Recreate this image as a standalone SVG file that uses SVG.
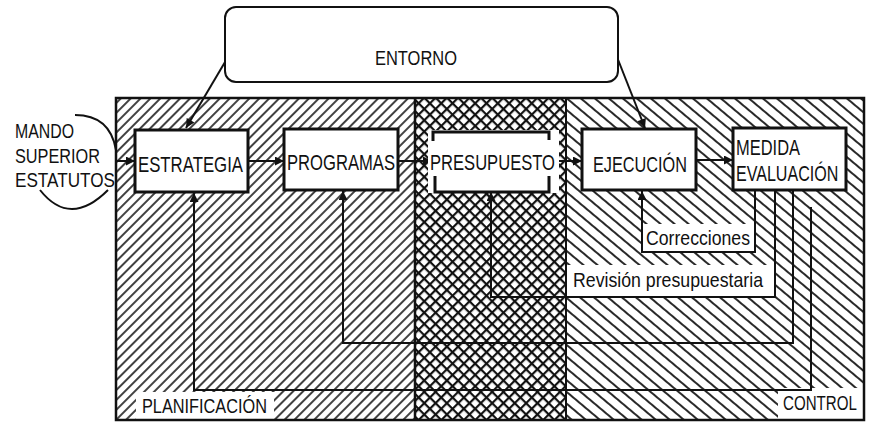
<svg xmlns="http://www.w3.org/2000/svg" width="871" height="423" viewBox="0 0 871 423">
<style>
text{font-family:"Liberation Sans",Arial,sans-serif;font-size:21px;fill:#111}
.bt{font-size:22px}
.box{fill:#fff;stroke:#111;stroke-width:3}
.ln{fill:none;stroke:#111;stroke-width:2}
.wh{fill:#fff}
</style>
<defs>
<pattern id="hatchL" patternUnits="userSpaceOnUse" width="7" height="7" patternTransform="rotate(45)">
<line x1="1" y1="0" x2="1" y2="7" stroke="#111" stroke-width="1.6"/>
</pattern>
<pattern id="hatchR" patternUnits="userSpaceOnUse" width="9" height="9" patternTransform="rotate(-50)">
<line x1="1" y1="0" x2="1" y2="9" stroke="#111" stroke-width="1.8"/>
</pattern>
<pattern id="cross" patternUnits="userSpaceOnUse" width="8" height="8" patternTransform="rotate(45)">
<line x1="1" y1="0" x2="1" y2="8" stroke="#111" stroke-width="2.4"/>
<line x1="0" y1="1" x2="8" y2="1" stroke="#111" stroke-width="2.4"/>
</pattern>
<marker id="arr" viewBox="0 0 10 10" refX="10" refY="5" markerWidth="10" markerHeight="9" markerUnits="userSpaceOnUse" orient="auto">
<path d="M0,0 L10,5 L0,10 z" fill="#111"/>
</marker>
</defs>
<rect width="871" height="423" fill="#fff"/>

<g id="frame">
<rect x="116" y="98" width="299" height="322" fill="url(#hatchL)"/>
<rect x="415" y="98" width="151" height="322" fill="url(#cross)"/>
<rect x="566" y="98" width="298" height="322" fill="url(#hatchR)"/>
<rect class="wh" x="136" y="392" width="138" height="27"/>
<rect class="wh" x="778" y="388" width="85" height="31"/>
<rect class="wh" x="567" y="265" width="208" height="32"/>
<rect class="wh" x="642" y="224" width="113" height="28"/>
<line x1="415" y1="98" x2="415" y2="420" stroke="#111" stroke-width="2.5"/>
<line x1="566" y1="98" x2="566" y2="420" stroke="#111" stroke-width="2"/>
<rect x="116" y="98" width="748" height="322" fill="none" stroke="#111" stroke-width="2.5"/>
<text x="142" y="413" textLength="125" lengthAdjust="spacingAndGlyphs">PLANIFICACIÓN</text>
<text transform="translate(783,410) scale(0.72,1)">CONTROL</text>
</g>

<g id="connectors">
<line class="ln" x1="228" y1="57" x2="186" y2="128" marker-end="url(#arr)"/>
<line class="ln" x1="617" y1="57" x2="645" y2="128" marker-end="url(#arr)"/>
<line class="ln" x1="116" y1="161" x2="135" y2="161" marker-end="url(#arr)"/>
<line class="ln" x1="248" y1="161" x2="284" y2="161" marker-end="url(#arr)"/>
<line class="ln" x1="398" y1="161" x2="432" y2="161" marker-end="url(#arr)"/>
<line class="ln" x1="556" y1="161" x2="582" y2="161" marker-end="url(#arr)"/>
<line class="ln" x1="696" y1="160" x2="733" y2="160" marker-end="url(#arr)"/>
<path class="ln" d="M755,190 V252 H642 V191" marker-end="url(#arr)"/>
<path class="ln" d="M775,190 V297 H491 V192" marker-end="url(#arr)"/>
<path class="ln" d="M793,190 V343 H343 V191" marker-end="url(#arr)"/>
<path class="ln" d="M811,207 V390 H194 V193" marker-end="url(#arr)"/>
<path class="ln" d="M75,115 Q110,115 116,150"/>
<path class="ln" d="M40,190 Q70,228 108,190"/>
</g>

<g id="entorno">
<rect x="225" y="7" width="393" height="75" rx="11" fill="#fff" stroke="#111" stroke-width="2"/>
<text x="375" y="65" textLength="82" lengthAdjust="spacingAndGlyphs">ENTORNO</text>
</g>

<g id="mando">
<text x="15" y="138" textLength="59" lengthAdjust="spacingAndGlyphs">MANDO</text>
<text x="15" y="163" textLength="85" lengthAdjust="spacingAndGlyphs">SUPERIOR</text>
<text x="15" y="187" textLength="100" lengthAdjust="spacingAndGlyphs">ESTATUTOS</text>
</g>

<g id="estrategia">
<rect class="box" x="135" y="130" width="113" height="62"/>
<text class="bt" x="138" y="172" textLength="105" lengthAdjust="spacingAndGlyphs">ESTRATEGIA</text>
</g>

<g id="programas">
<rect class="box" x="284" y="129" width="114" height="61"/>
<text class="bt" x="287" y="170" textLength="108" lengthAdjust="spacingAndGlyphs">PROGRAMAS</text>
</g>

<g id="presupuesto">
<rect class="wh" x="428" y="130" width="131" height="63"/>
<path d="M433,141 V132 H549 V140 M435,176 V192 H549 V176" fill="none" stroke="#111" stroke-width="3"/>
<text class="bt" x="430" y="170" textLength="125" lengthAdjust="spacingAndGlyphs">PRESUPUESTO</text>
</g>

<g id="ejecucion">
<rect class="box" x="582" y="129" width="114" height="61"/>
<text class="bt" x="593" y="172" textLength="94" lengthAdjust="spacingAndGlyphs">EJECUCIÓN</text>
</g>

<g id="medida">
<rect class="box" x="733" y="128" width="113" height="62"/>
<text class="bt" x="736" y="155" textLength="64" lengthAdjust="spacingAndGlyphs">MEDIDA</text>
<text class="bt" transform="translate(736,181) scale(0.73,1)">EVALUACIÓN</text>
</g>

<g id="labels">
<text x="646" y="245" textLength="104" lengthAdjust="spacingAndGlyphs">Correcciones</text>
<text x="573" y="287" textLength="190" lengthAdjust="spacingAndGlyphs">Revisión presupuestaria</text>
</g>
</svg>
